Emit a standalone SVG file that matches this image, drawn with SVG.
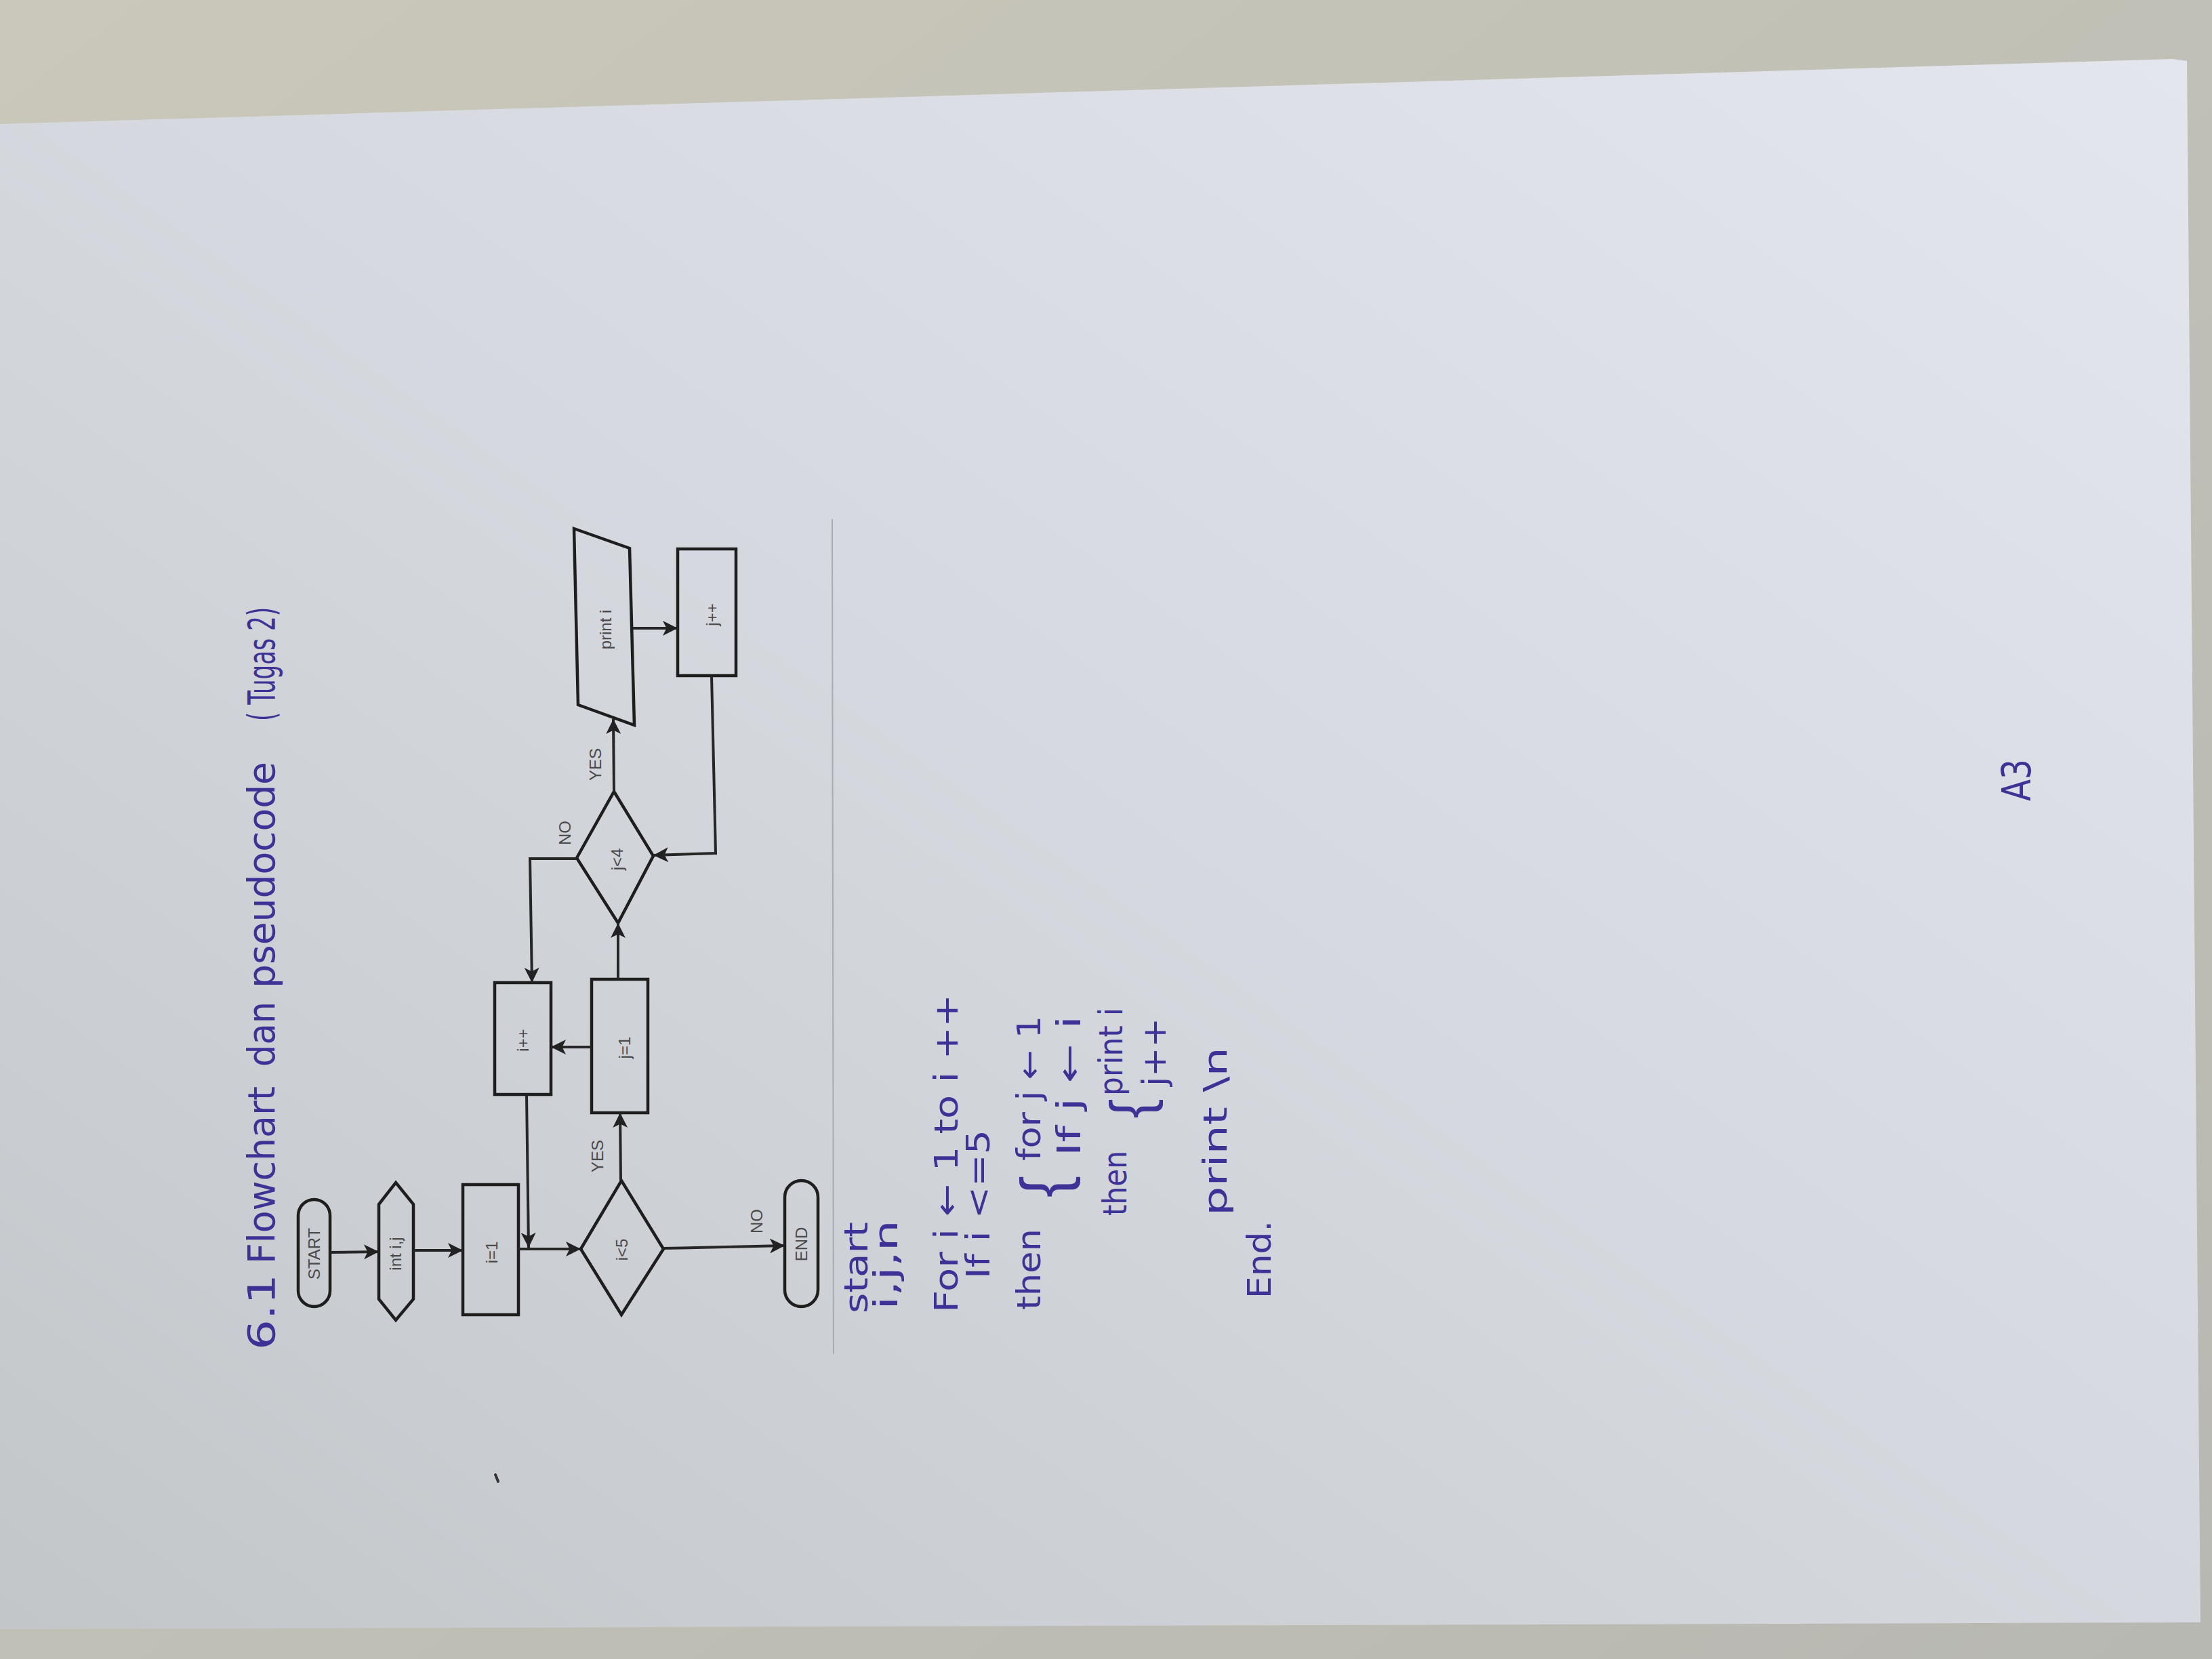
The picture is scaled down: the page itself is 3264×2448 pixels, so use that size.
<svg xmlns="http://www.w3.org/2000/svg" width="3264" height="2448" viewBox="0 0 3264 2448">
<defs>
  <linearGradient id="paper" x1="1" y1="0" x2="0" y2="1">
    <stop offset="0" stop-color="#e4e6ed"/>
    <stop offset="0.5" stop-color="#d5d8de"/>
    <stop offset="1" stop-color="#c3c6c9"/>
  </linearGradient>
  <linearGradient id="bg" x1="0" y1="0" x2="1" y2="1">
    <stop offset="0" stop-color="#cac8ba"/>
    <stop offset="1" stop-color="#b8b8b2"/>
  </linearGradient>
  <marker id="arr" viewBox="0 0 10 10" refX="10" refY="5" markerWidth="24" markerHeight="22" markerUnits="userSpaceOnUse" orient="auto">
    <path d="M0,0 L10,5 L0,10 L2.5,5 z" fill="#222"/>
  </marker>
</defs>
<style>
  .shape{fill:none;stroke:#1e1e1e;stroke-width:4.5;stroke-linejoin:miter}
  .conn{fill:none;stroke:#262626;stroke-width:4}
  .lbl{font-family:"Liberation Sans",Arial,sans-serif;font-size:24px;fill:#4a4a4a;text-anchor:middle}
  .hand{font-family:"DejaVu Sans","Liberation Sans",sans-serif;fill:#3d3296}
  .brace{font-family:"Liberation Sans",Arial,sans-serif;fill:#3d3296;text-anchor:middle}
</style>

<rect x="0" y="0" width="3264" height="2448" fill="url(#bg)"/>
<polygon points="0,183 3206,87 3227,90 3247,2394 0,2404" fill="url(#paper)"/>
<line x1="1228" y1="766" x2="1230" y2="1998" stroke="#a9abb0" stroke-width="2"/>
<path d="M731,2176 l4,10" stroke="#333" stroke-width="4" stroke-linecap="round"/>

<g id="title" class="hand" font-size="56">
  <text transform="rotate(-90)" x="-1992" y="405" textLength="112" lengthAdjust="spacingAndGlyphs">6.1</text>
  <text transform="rotate(-90)" x="-1865" y="405" textLength="262" lengthAdjust="spacingAndGlyphs">Flowchart</text>
  <text transform="rotate(-90)" x="-1574" y="405" textLength="96" lengthAdjust="spacingAndGlyphs">dan</text>
  <text transform="rotate(-90)" x="-1458" y="405" textLength="334" lengthAdjust="spacingAndGlyphs">pseudocode</text>
  <text transform="rotate(-90)" x="-1064" y="405" textLength="168" lengthAdjust="spacingAndGlyphs">( Tugas 2)</text>
</g>

<g id="start">
  <rect class="shape" x="440" y="1770" width="47" height="158" rx="23.5"/>
  <text class="lbl" transform="translate(472,1850) rotate(-90)" textLength="76" lengthAdjust="spacingAndGlyphs">START</text>
</g>
<g id="input">
  <polygon class="shape" points="584,1745 610,1777 610,1917 584,1948 559,1917 559,1777"/>
  <text class="lbl" transform="translate(592,1850) rotate(-90)">int i,j</text>
</g>
<g id="init-i">
  <rect class="shape" x="683" y="1748" width="82" height="192"/>
  <text class="lbl" transform="translate(734,1848) rotate(-90)">i=1</text>
</g>
<g id="cond-i">
  <polygon class="shape" points="857,1843 917,1742 979,1843 917,1940"/>
  <text class="lbl" transform="translate(926,1844) rotate(-90)">i&lt;5</text>
</g>
<g id="end">
  <rect class="shape" x="1158" y="1742" width="49" height="186" rx="24.5"/>
  <text class="lbl" transform="translate(1191,1836) rotate(-90)">END</text>
</g>
<g id="inc-i">
  <rect class="shape" x="730" y="1450" width="83" height="165"/>
  <text class="lbl" transform="translate(780,1535) rotate(-90)">i++</text>
</g>
<g id="init-j">
  <rect class="shape" x="873" y="1445" width="83" height="197"/>
  <text class="lbl" transform="translate(930,1546) rotate(-90)">j=1</text>
</g>
<g id="cond-j">
  <polygon class="shape" points="851,1266 906,1168 964,1263 912,1362"/>
  <text class="lbl" transform="translate(919,1268) rotate(-90)">j&lt;4</text>
</g>
<g id="print">
  <polygon class="shape" points="847,780 929,809 936,1070 853,1040"/>
  <text class="lbl" transform="translate(902,929) rotate(-90)">print i</text>
</g>
<g id="inc-j">
  <rect class="shape" x="1000" y="810" width="86" height="187"/>
  <text class="lbl" transform="translate(1059,907) rotate(-90)">j++</text>
</g>

<g id="connectors">
  <line class="conn" x1="487" y1="1848" x2="559" y2="1847" marker-end="url(#arr)"/>
  <line class="conn" x1="610" y1="1845" x2="683" y2="1845" marker-end="url(#arr)"/>
  <line class="conn" x1="765" y1="1843" x2="857" y2="1843" marker-end="url(#arr)"/>
  <line class="conn" x1="979" y1="1842" x2="1158" y2="1838" marker-end="url(#arr)"/>
  <line class="conn" x1="916" y1="1742" x2="915" y2="1642" marker-end="url(#arr)"/>
  <line class="conn" x1="912" y1="1445" x2="912" y2="1362" marker-end="url(#arr)"/>
  <line class="conn" x1="906" y1="1168" x2="905" y2="1061" marker-end="url(#arr)"/>
  <line class="conn" x1="934" y1="927" x2="1000" y2="927" marker-end="url(#arr)"/>
  <polyline class="conn" points="1050,997 1056,1259 964,1262" marker-end="url(#arr)"/>
  <polyline class="conn" points="851,1267 782,1267 785,1450" marker-end="url(#arr)"/>
  <line class="conn" x1="873" y1="1545" x2="813" y2="1545" marker-end="url(#arr)"/>
  <polyline class="conn" points="777,1615 780,1841" marker-end="url(#arr)"/>
  <text class="lbl" transform="translate(1125,1802) rotate(-90)">NO</text>
  <text class="lbl" transform="translate(890,1706) rotate(-90)">YES</text>
  <text class="lbl" transform="translate(887,1128) rotate(-90)">YES</text>
  <text class="lbl" transform="translate(842,1229) rotate(-90)">NO</text>
</g>

<g id="pseudocode" class="hand" font-size="48">
  <text transform="rotate(-90)" x="-1938" y="1280" textLength="135" lengthAdjust="spacingAndGlyphs">start</text>
  <text transform="rotate(-90)" x="-1933" y="1324" textLength="133" lengthAdjust="spacingAndGlyphs">i,j,n</text>
  <text transform="rotate(-90)" x="-1937" y="1413" textLength="470" lengthAdjust="spacingAndGlyphs">For i ← 1 to i ++</text>
  <text transform="rotate(-90)" x="-1887" y="1460" textLength="220" lengthAdjust="spacingAndGlyphs">If i &lt;=5</text>
  <text transform="rotate(-90)" x="-1933" y="1535" textLength="120" lengthAdjust="spacingAndGlyphs">then</text>
  <text class="brace" transform="rotate(-90)" x="-1751" y="1574" font-size="96">{</text>
  <text transform="rotate(-90)" x="-1713" y="1535" textLength="214" lengthAdjust="spacingAndGlyphs">for j ← 1</text>
  <text transform="rotate(-90)" x="-1706" y="1594" textLength="207" lengthAdjust="spacingAndGlyphs">If j ← i</text>
  <text transform="rotate(-90)" x="-1794" y="1662" textLength="96" lengthAdjust="spacingAndGlyphs">then</text>
  <text class="brace" transform="rotate(-90)" x="-1636" y="1698" font-size="86">{</text>
  <text transform="rotate(-90)" x="-1617" y="1656" textLength="130" lengthAdjust="spacingAndGlyphs">print i</text>
  <text transform="rotate(-90)" x="-1603" y="1720" textLength="101" lengthAdjust="spacingAndGlyphs">j++</text>
  <text transform="rotate(-90)" x="-1794" y="1810" textLength="249" lengthAdjust="spacingAndGlyphs">print \n</text>
  <text transform="rotate(-90)" x="-1916" y="1875" textLength="115" lengthAdjust="spacingAndGlyphs">End.</text>
</g>

<g id="pagemark" class="hand" font-size="58">
  <text transform="rotate(-90)" x="-1182" y="2996" textLength="62" lengthAdjust="spacingAndGlyphs">A3</text>
</g>
</svg>
